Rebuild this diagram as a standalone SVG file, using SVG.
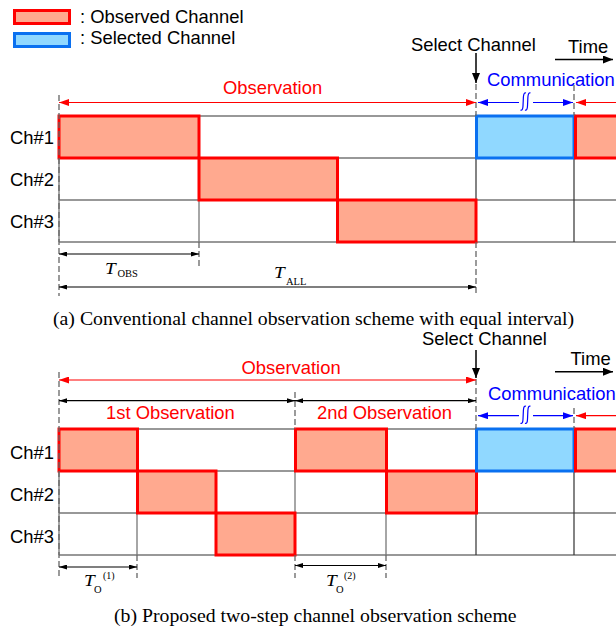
<svg xmlns="http://www.w3.org/2000/svg" width="616" height="635" viewBox="0 0 616 635">
<defs>
<marker id="ar" viewBox="0 0 10 7" refX="10" refY="3.5" markerWidth="10" markerHeight="7" markerUnits="userSpaceOnUse" orient="auto-start-reverse"><path d="M0,0L10,3.5L0,7z" fill="#ff0000"/></marker>
<marker id="ab" viewBox="0 0 10 7" refX="10" refY="3.5" markerWidth="10" markerHeight="7" markerUnits="userSpaceOnUse" orient="auto-start-reverse"><path d="M0,0L10,3.5L0,7z" fill="#0000ff"/></marker>
<marker id="ak" viewBox="0 0 8 5" refX="8" refY="2.5" markerWidth="8" markerHeight="5" markerUnits="userSpaceOnUse" orient="auto-start-reverse"><path d="M0,0L8,2.5L0,5z" fill="#000"/></marker>
<marker id="akb" viewBox="0 0 10 8" refX="10" refY="4" markerWidth="10" markerHeight="8" markerUnits="userSpaceOnUse" orient="auto"><path d="M0,0L10,4L0,8z" fill="#000"/></marker>
</defs>
<style>
.s{font-family:"Liberation Sans",Arial,Helvetica,sans-serif;font-size:18.4px;fill:#000}
.red{fill:#ff0000}
.blue{fill:#0000ff}
.serif{font-family:"Liberation Serif","Times New Roman",serif;fill:#000}
.obs{fill:#ffa98f;stroke:#ff0000;stroke-width:3}
.sel{fill:#90d8ff;stroke:#0a70f0;stroke-width:3}
.g{stroke:#333;stroke-width:1.2;fill:none}
.g2{stroke:#777;stroke-width:1.3;fill:none}
.d{stroke:#666;stroke-width:1.3;stroke-dasharray:6,3;fill:none}
.ra{stroke:#ff0000;stroke-width:1.2;fill:none}
.ba{stroke:#0000ff;stroke-width:1.2;fill:none}
.ka{stroke:#000;stroke-width:1.2;fill:none}
.kb{stroke:#000;stroke-width:1.5;fill:none}
</style>

<g id="legend">
<rect class="obs" x="14.5" y="10.5" width="55" height="13"/>
<text class="s" x="80" y="22.7">: Observed Channel</text>
<rect class="sel" x="14.5" y="33.5" width="55" height="13"/>
<text class="s" x="80" y="44.3">: Selected Channel</text>
</g>

<!-- ===== (a) ===== -->
<g id="a-grid">
<path class="g" d="M59,116H616M59,158H616"/>
<path class="g2" d="M59,200H616M59,242H616M59,116V242M199,200V242"/>
<path class="g" d="M476,116V242M574,116V242"/>
</g>
<g id="a-labels">
<text class="s" x="10" y="144">Ch#1</text>
<text class="s" x="10" y="186">Ch#2</text>
<text class="s" x="10" y="228">Ch#3</text>
</g>
<g id="a-boxes">
<rect id="a-ch1" class="obs" x="59" y="116" width="140" height="42"/>
<rect id="a-ch2" class="obs" x="199" y="158" width="138.5" height="42"/>
<rect id="a-ch3" class="obs" x="337.5" y="200" width="138.5" height="42"/>
<rect id="a-sel" class="sel" x="476.5" y="116" width="97.5" height="42"/>
<rect id="a-next" class="obs" x="575.5" y="116" width="45" height="42"/>
</g>
<g id="a-connectors">
<path class="d" d="M59,95V296M199,242V268M476,84V116M476,242V294M574,85V116"/>
<line class="ra" x1="59" y1="102.5" x2="476" y2="102.5" marker-start="url(#ar)" marker-end="url(#ar)"/>
<line class="ra" x1="616" y1="102.5" x2="576" y2="102.5" marker-end="url(#ar)"/>
<line class="ba" x1="478" y1="102.5" x2="519" y2="102.5" marker-start="url(#ab)"/>
<line class="ba" x1="533" y1="102.5" x2="573" y2="102.5" marker-end="url(#ab)"/>
<path class="ba" d="M520.5,110Q522.8,111 523,106L523.4,97Q523.8,92 526,93M525,110Q527.3,111 527.5,106L527.9,97Q528.3,92 530.5,93"/>
<line class="kb" x1="476" y1="53" x2="476" y2="83" marker-end="url(#akb)"/>
<line class="kb" x1="555" y1="59.5" x2="613" y2="59.5" marker-end="url(#akb)"/>
<line class="ka" x1="59" y1="254" x2="199" y2="254" marker-start="url(#ak)" marker-end="url(#ak)"/>
<line class="ka" x1="59" y1="287" x2="476" y2="287" marker-start="url(#ak)" marker-end="url(#ak)"/>
</g>
<g id="a-text">
<text class="s red" x="223" y="94">Observation</text>
<text class="s" x="411" y="50.7">Select Channel</text>
<text class="s" x="568" y="52.7">Time</text>
<text class="s blue" x="487" y="85.7">Communication</text>
<text class="serif" font-style="italic" font-size="17.5" transform="translate(105,273.5) scale(1.1,1)">T</text>
<text class="serif" font-size="10.5" x="117.5" y="277">OBS</text>
<text class="serif" font-style="italic" font-size="17.5" transform="translate(274,278) scale(1.1,1)">T</text>
<text class="serif" font-size="10.5" x="286" y="284.5">ALL</text>
<text class="serif" font-size="18.5" transform="translate(53,325) scale(1.07,1)">(a) Conventional channel observation scheme with equal interval)</text>
</g>

<!-- ===== (b) ===== -->
<g id="b-grid">
<path class="g" d="M59,429H616M59,471H616"/>
<path class="g2" d="M59,513H616M59,555H616M59,429V555M137,513V555M295,429V555M386,513V555"/>
<path class="g" d="M476,429V555M574,429V555"/>
</g>
<g id="b-labels">
<text class="s" x="10" y="458.5">Ch#1</text>
<text class="s" x="10" y="500.5">Ch#2</text>
<text class="s" x="10" y="542.5">Ch#3</text>
</g>
<g id="b-boxes">
<rect id="b-ch1a" class="obs" x="59" y="429" width="78.5" height="42"/>
<rect id="b-ch2a" class="obs" x="137.5" y="471" width="78.5" height="42"/>
<rect id="b-ch3a" class="obs" x="216" y="513" width="79" height="42"/>
<rect id="b-ch1b" class="obs" x="295.5" y="429" width="91" height="42"/>
<rect id="b-ch2b" class="obs" x="386.5" y="471" width="90" height="42"/>
<rect id="b-sel" class="sel" x="476.5" y="429" width="97.5" height="42"/>
<rect id="b-next" class="obs" x="575.5" y="429" width="45" height="42"/>
</g>
<g id="b-connectors">
<path class="d" d="M59,372V578M295,392V429M295,555V578M476,379V429M574,408V429M137,555V578M386,555V578"/>
<line class="ra" x1="59" y1="380" x2="476" y2="380" marker-start="url(#ar)" marker-end="url(#ar)"/>
<line class="ka" x1="59" y1="400.7" x2="295" y2="400.7" marker-start="url(#ak)" marker-end="url(#ak)"/>
<line class="ka" x1="295" y1="400.7" x2="476" y2="400.7" marker-start="url(#ak)" marker-end="url(#ak)"/>
<line class="ra" x1="616" y1="415.7" x2="576" y2="415.7" marker-end="url(#ar)"/>
<line class="ba" x1="478" y1="415.7" x2="519" y2="415.7" marker-start="url(#ab)"/>
<line class="ba" x1="533" y1="415.7" x2="573" y2="415.7" marker-end="url(#ab)"/>
<path class="ba" d="M520.5,423.2Q522.8,424.2 523,419.2L523.4,410.2Q523.8,405.2 526,406.2M525,423.2Q527.3,424.2 527.5,419.2L527.9,410.2Q528.3,405.2 530.5,406.2"/>
<line class="kb" x1="476" y1="350" x2="476" y2="378" marker-end="url(#akb)"/>
<line class="kb" x1="555" y1="371.7" x2="613" y2="371.7" marker-end="url(#akb)"/>
<line class="ka" x1="59" y1="567" x2="137" y2="567" marker-start="url(#ak)" marker-end="url(#ak)"/>
<line class="ka" x1="295" y1="565.5" x2="386" y2="565.5" marker-start="url(#ak)" marker-end="url(#ak)"/>
</g>
<g id="b-text">
<text class="s red" x="241.5" y="374">Observation</text>
<text class="s red" x="106" y="419">1st Observation</text>
<text class="s red" x="317" y="419">2nd Observation</text>
<text class="s" x="422" y="345">Select Channel</text>
<text class="s" x="570.5" y="365">Time</text>
<text class="s blue" x="488" y="400">Communication</text>
<text class="serif" font-style="italic" font-size="17.5" transform="translate(84,585.5) scale(1.1,1)">T</text>
<text class="serif" font-size="10.5" x="94" y="592.5">O</text>
<text class="serif" font-size="10" x="103" y="579">(1)</text>
<text class="serif" font-style="italic" font-size="17.5" transform="translate(326,585.5) scale(1.1,1)">T</text>
<text class="serif" font-size="10.5" x="336" y="592.5">O</text>
<text class="serif" font-size="10" x="344" y="579">(2)</text>
<text class="serif" font-size="18.5" transform="translate(114,622) scale(1.07,1)">(b) Proposed two-step channel observation scheme</text>
</g>
</svg>
